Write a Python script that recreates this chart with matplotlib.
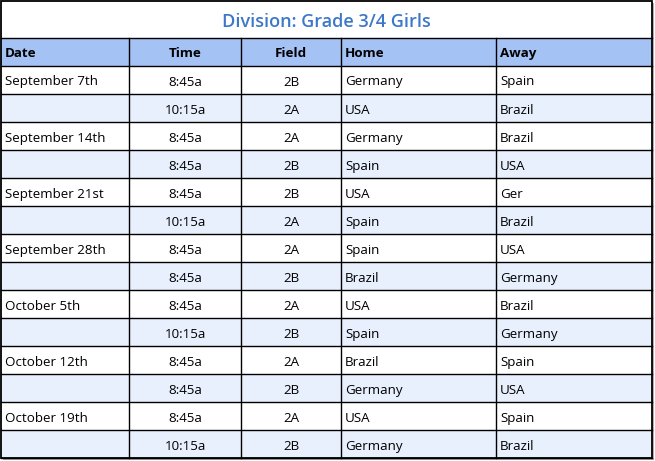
import matplotlib

matplotlib.use("Agg")
import matplotlib.pyplot as plt
from matplotlib.patches import Rectangle

title = "Division: Grade 3/4 Girls"
columns = ["Date", "Time", "Field", "Home", "Away"]
dates = ["September 7th", "", "September 14th", "", "September 21st", "",
         "September 28th", "", "October 5th", "", "October 12th", "",
         "October 19th", ""]
times = ["8:45a", "10:15a", "8:45a", "8:45a", "8:45a", "10:15a", "8:45a",
         "8:45a", "8:45a", "10:15a", "8:45a", "8:45a", "8:45a", "10:15a"]
fields = ["2B", "2A", "2A", "2B", "2B", "2A", "2A",
          "2B", "2A", "2B", "2A", "2B", "2A", "2B"]
home = ["Germany", "USA", "Germany", "Spain", "USA", "Spain", "Spain",
        "Brazil", "USA", "Spain", "Brazil", "Germany", "USA", "Germany"]
away = ["Spain", "Brazil", "Brazil", "USA", "Ger", "Brazil", "USA",
        "Germany", "Brazil", "Germany", "Spain", "USA", "Spain", "Brazil"]

# layout in pixels
W, H = 655, 461
col_edges = [1, 129, 241, 341, 496, 652]
aligns = ["left", "center", "center", "left", "left"]
title_top, header_top, body_top, row_h = 1, 38, 66, 28

HEADER_FILL = "#a4c2f4"
ALT_FILL = "#e8f0fe"
TITLE_COLOR = "#3d78c8"
FONT = ["Open Sans", "DejaVu Sans"]

fig = plt.figure(figsize=(W / 100, H / 100), dpi=100)
ax = fig.add_axes([0, 0, 1, 1])
ax.set_xlim(0, W)
ax.set_ylim(H, 0)
ax.axis("off")

rows = list(zip(dates, times, fields, home, away))
bottom = body_top + row_h * len(rows)
left, right = col_edges[0], col_edges[-1]

# shadow
ax.add_patch(Rectangle((left + 2, title_top + 2), right - left, bottom - title_top,
                       facecolor="#b0b0b0", edgecolor="none", zorder=0))
ax.add_patch(Rectangle((left, title_top), right - left, bottom - title_top,
                       facecolor="white", edgecolor="none", zorder=1))

# header and alternating fills
ax.add_patch(Rectangle((left, header_top), right - left, body_top - header_top,
                       facecolor=HEADER_FILL, edgecolor="none", zorder=1))
for i in range(len(rows)):
    if i % 2 == 1:
        ax.add_patch(Rectangle((left, body_top + i * row_h), right - left, row_h,
                               facecolor=ALT_FILL, edgecolor="none", zorder=1))

# title
ax.text((left + right) / 2, 27, title,
        ha="center", va="baseline", fontsize=13, color=TITLE_COLOR,
        fontweight="semibold", family=FONT, zorder=3)


def cell_x(j, align):
    if align == "center":
        return (col_edges[j] + col_edges[j + 1]) / 2
    return col_edges[j] + 4


for j, name in enumerate(columns):
    ax.text(cell_x(j, aligns[j]), header_top + 19, name,
            ha=aligns[j], va="baseline", fontsize=9.6, fontweight="bold",
            family=FONT, color="black", zorder=3)

for i, row in enumerate(rows):
    yb = body_top + i * row_h + 19.5
    for j, val in enumerate(row):
        if val:
            ax.text(cell_x(j, aligns[j]), yb, val, ha=aligns[j], va="baseline",
                    fontsize=9.6, family=FONT, color="black", zorder=3)

# grid lines
lw = 1.0
for k in range(len(rows) + 1):
    y = body_top + k * row_h
    ax.plot([left, right], [y, y], color="black", lw=lw, zorder=4)
ax.plot([left, right], [header_top, header_top], color="black", lw=lw, zorder=4)
for x in col_edges[1:-1]:
    ax.plot([x, x], [header_top, bottom], color="black", lw=lw, zorder=4)
ax.add_patch(Rectangle((left, title_top), right - left, bottom - title_top,
                       facecolor="none", edgecolor="black", lw=1.3, zorder=5))

fig.savefig("out.png", dpi=100)
